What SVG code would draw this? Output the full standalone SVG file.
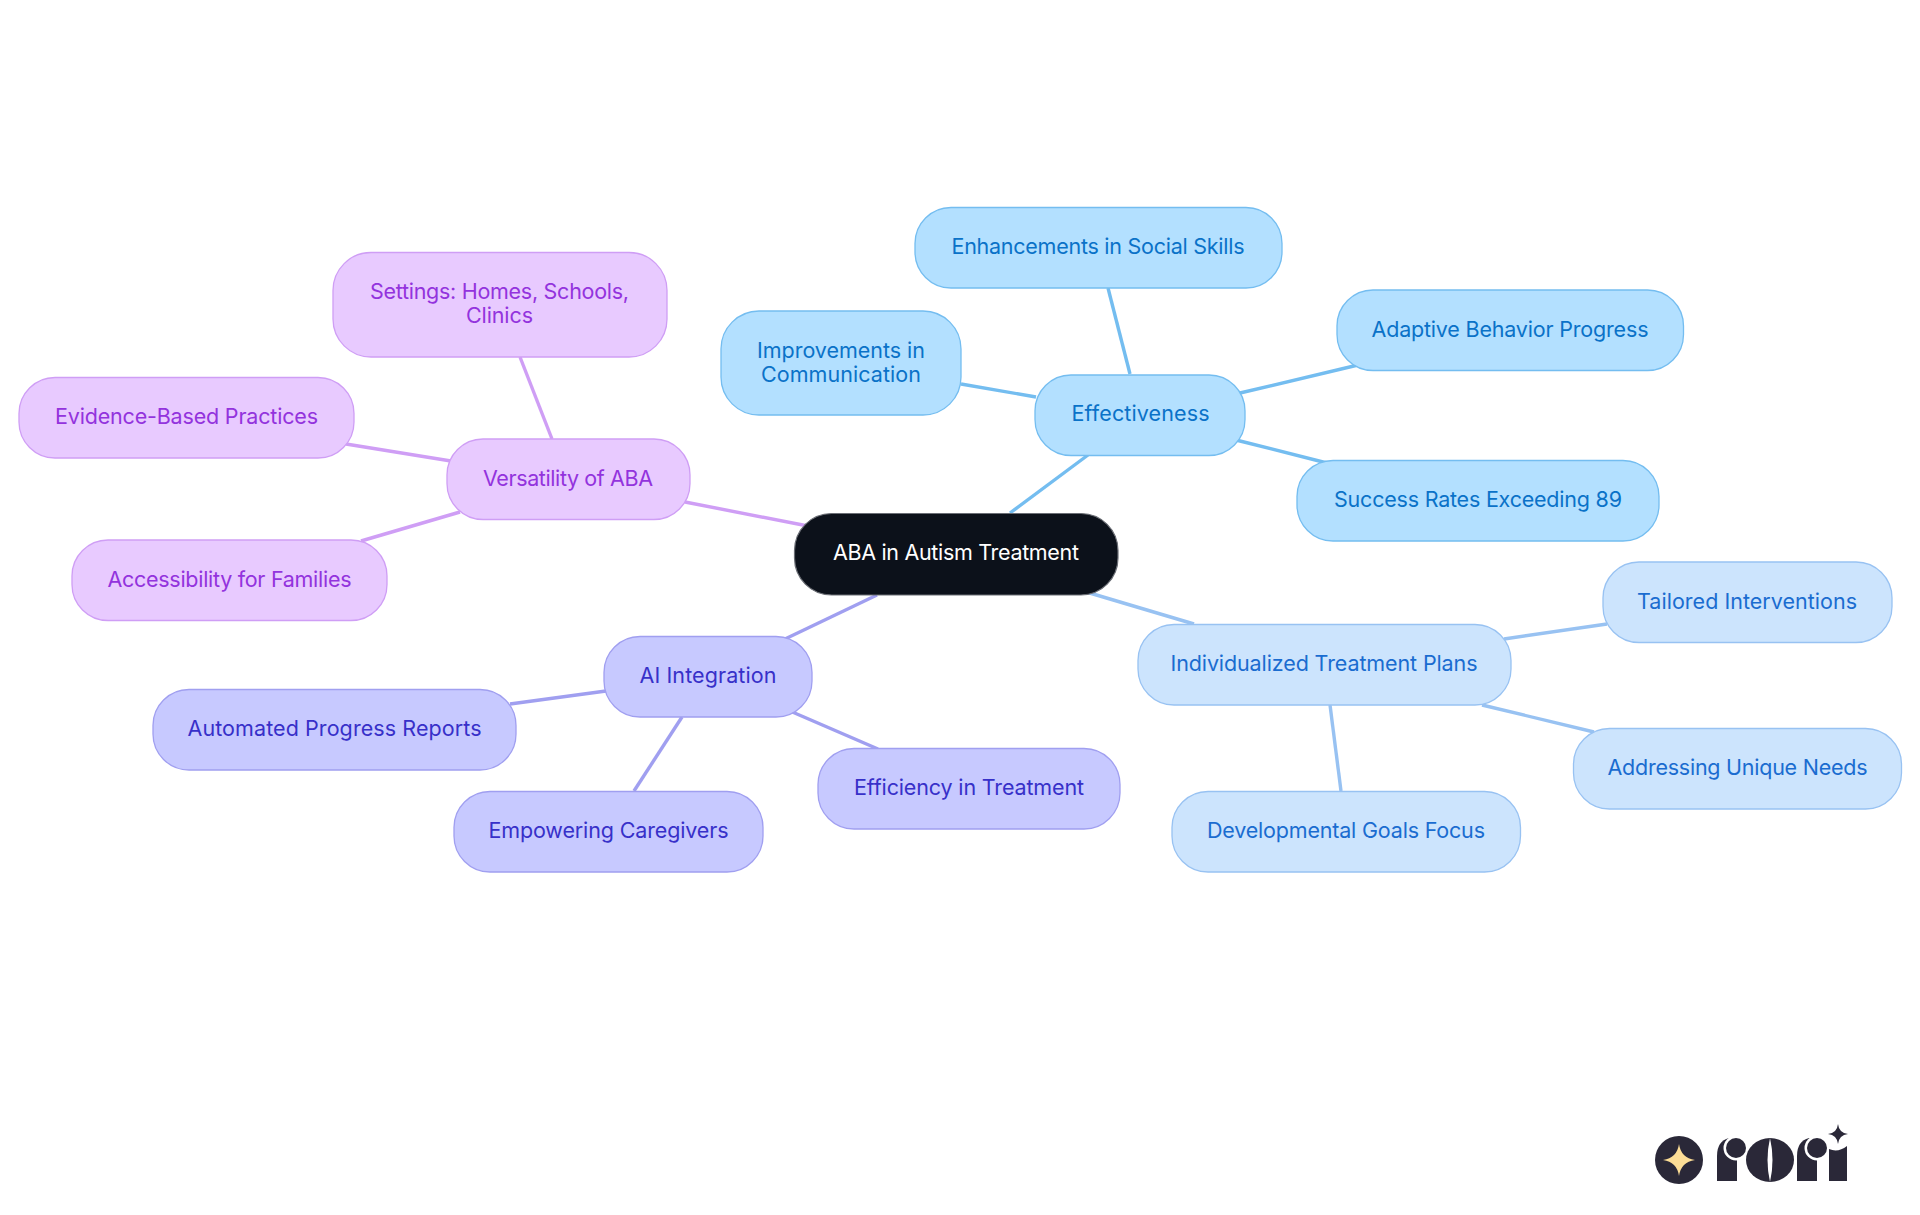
<svg xmlns="http://www.w3.org/2000/svg" width="1920" height="1215" viewBox="0 0 1920 1215">
<style>
.n{stroke-width:1.3}
rect{shape-rendering:geometricPrecision}
text{font-family:Inter,"Noto Sans","Liberation Sans",sans-serif;font-size:21.500px;font-weight:400;text-anchor:middle}
.c{fill:none;stroke-width:3.4}
.a rect{fill:#b3e0ff;stroke:#74bdf0}.a text{fill:#0a72c8}
.b rect{fill:#cce4fd;stroke:#98c2f2}.b text{fill:#1a6cd0}
.d rect{fill:#c7c9ff;stroke:#a09ff0}.d text{fill:#3730c9}
.e rect{fill:#e8caff;stroke:#cf9ef5}.e text{fill:#9333dd}
.l{fill:#2a2838}
</style>
<rect width="1920" height="1215" fill="#fff"/>
<g id="connectors">
<g class="c" stroke="#74bdf0"><path d="M1010 513L1088 455"/><path d="M1130 374L1108 288"/><path d="M1240 393L1358 365"/><path d="M1236 440L1327 463"/><path d="M1036 397L961 384"/></g>
<g class="c" stroke="#98c2f2"><path d="M1083 591L1194 624"/><path d="M1504 639L1607 624"/><path d="M1482 705L1594 732"/><path d="M1330 705L1341 791"/></g>
<g class="c" stroke="#a09ff0"><path d="M877 595L785 639"/><path d="M606 691L510 704"/><path d="M682 717L634 791"/><path d="M790 711L878 749"/></g>
<g class="c" stroke="#cf9ef5"><path d="M808 526L685 502"/><path d="M552 439L520 357"/><path d="M451 461L346 444"/><path d="M460 512L361 541"/></g>
</g>
<g id="root"><rect x="794.500" y="513.500" width="323.500" height="81.500" rx="37" fill="#0c111a" stroke="#6b6e75" stroke-width="1.200"/><text x="956" y="560" fill="#fff" textLength="246" lengthAdjust="spacing">ABA in Autism Treatment</text></g>
<g id="effectiveness" class="a n"><rect x="1035" y="375" width="210" height="80.500" rx="36"/><text x="1140.500" y="421" textLength="138" lengthAdjust="spacing">Effectiveness</text></g>
<g id="enhancements" class="a n"><rect x="915" y="207.500" width="367" height="80.500" rx="36"/><text x="1098" y="254" textLength="293" lengthAdjust="spacing">Enhancements in Social Skills</text></g>
<g id="adaptive" class="a n"><rect x="1337" y="290" width="346.500" height="80.500" rx="36"/><text x="1510" y="337" textLength="277" lengthAdjust="spacing">Adaptive Behavior Progress</text></g>
<g id="improvements" class="a n"><rect x="721" y="311" width="240" height="104" rx="38"/><text x="841" y="358" textLength="168" lengthAdjust="spacing">Improvements in</text><text x="841" y="382" textLength="160" lengthAdjust="spacing">Communication</text></g>
<g id="success" class="a n"><rect x="1297" y="460.500" width="362" height="80.500" rx="36"/><text x="1478" y="507" textLength="288" lengthAdjust="spacing">Success Rates Exceeding 89</text></g>
<g id="individualized" class="b n"><rect x="1138" y="624.500" width="373" height="80.500" rx="36"/><text x="1324" y="671" textLength="307" lengthAdjust="spacing">Individualized Treatment Plans</text></g>
<g id="tailored" class="b n"><rect x="1603" y="562" width="289" height="80.500" rx="36"/><text x="1747" y="609" textLength="220" lengthAdjust="spacing">Tailored Interventions</text></g>
<g id="addressing" class="b n"><rect x="1573.500" y="728.500" width="328" height="80.500" rx="36"/><text x="1737.500" y="775" textLength="260" lengthAdjust="spacing">Addressing Unique Needs</text></g>
<g id="developmental" class="b n"><rect x="1172" y="791.500" width="348.500" height="80.500" rx="36"/><text x="1346" y="838" textLength="278" lengthAdjust="spacing">Developmental Goals Focus</text></g>
<g id="ai" class="d n"><rect x="604" y="636.500" width="208" height="80.500" rx="36"/><text x="708" y="683" textLength="137" lengthAdjust="spacing">AI Integration</text></g>
<g id="automated" class="d n"><rect x="153" y="689.500" width="363" height="80.500" rx="36"/><text x="334.500" y="736" textLength="294" lengthAdjust="spacing">Automated Progress Reports</text></g>
<g id="empowering" class="d n"><rect x="454" y="791.500" width="309" height="80.500" rx="36"/><text x="608.500" y="838" textLength="240" lengthAdjust="spacing">Empowering Caregivers</text></g>
<g id="efficiency" class="d n"><rect x="818" y="748.500" width="302" height="80.500" rx="36"/><text x="969" y="795" textLength="230" lengthAdjust="spacing">Efficiency in Treatment</text></g>
<g id="versatility" class="e n"><rect x="447" y="439" width="243" height="80.500" rx="36"/><text x="568" y="486" textLength="170" lengthAdjust="spacing">Versatility of ABA</text></g>
<g id="settings" class="e n"><rect x="333" y="252.500" width="334" height="104.500" rx="38"/><text x="499.500" y="299" textLength="259" lengthAdjust="spacing">Settings: Homes, Schools,</text><text x="499.500" y="323" textLength="67" lengthAdjust="spacing">Clinics</text></g>
<g id="evidence" class="e n"><rect x="19" y="377.500" width="335" height="80.500" rx="36"/><text x="186.500" y="424" textLength="263" lengthAdjust="spacing">Evidence-Based Practices</text></g>
<g id="accessibility" class="e n"><rect x="72" y="540" width="315" height="80.500" rx="36"/><text x="229.500" y="587" textLength="244" lengthAdjust="spacing">Accessibility for Families</text></g>
<g id="logo">
<circle class="l" cx="1679" cy="1160" r="24"/>
<path d="M1679 1144Q1681 1158 1695 1160Q1681 1162 1679 1176Q1677 1162 1663 1160Q1677 1158 1679 1144Z" fill="#fcdd96"/>
<path class="l" d="M1717 1181V1156Q1717 1141 1729 1138H1737V1181Z"/><circle cx="1736" cy="1148" r="12.500" fill="#fff"/><circle class="l" cx="1736" cy="1148" r="10"/>
<ellipse class="l" cx="1770" cy="1160" rx="24" ry="22"/><path d="M1770 1138Q1765 1160 1770 1182Q1775 1160 1770 1138Z" fill="#fff"/>
<path class="l" d="M1797 1181V1156Q1797 1141 1809 1138H1817V1181Z"/><circle cx="1817" cy="1148" r="12.500" fill="#fff"/><circle class="l" cx="1817" cy="1148" r="10"/>
<path class="l" d="M1829 1181V1149Q1838 1153 1847 1146V1181Z"/>
<path class="l" d="M1838 1124Q1839 1133 1848 1134Q1839 1135 1838 1144Q1837 1135 1828 1134Q1837 1133 1838 1124Z"/>
</g>
</svg>
